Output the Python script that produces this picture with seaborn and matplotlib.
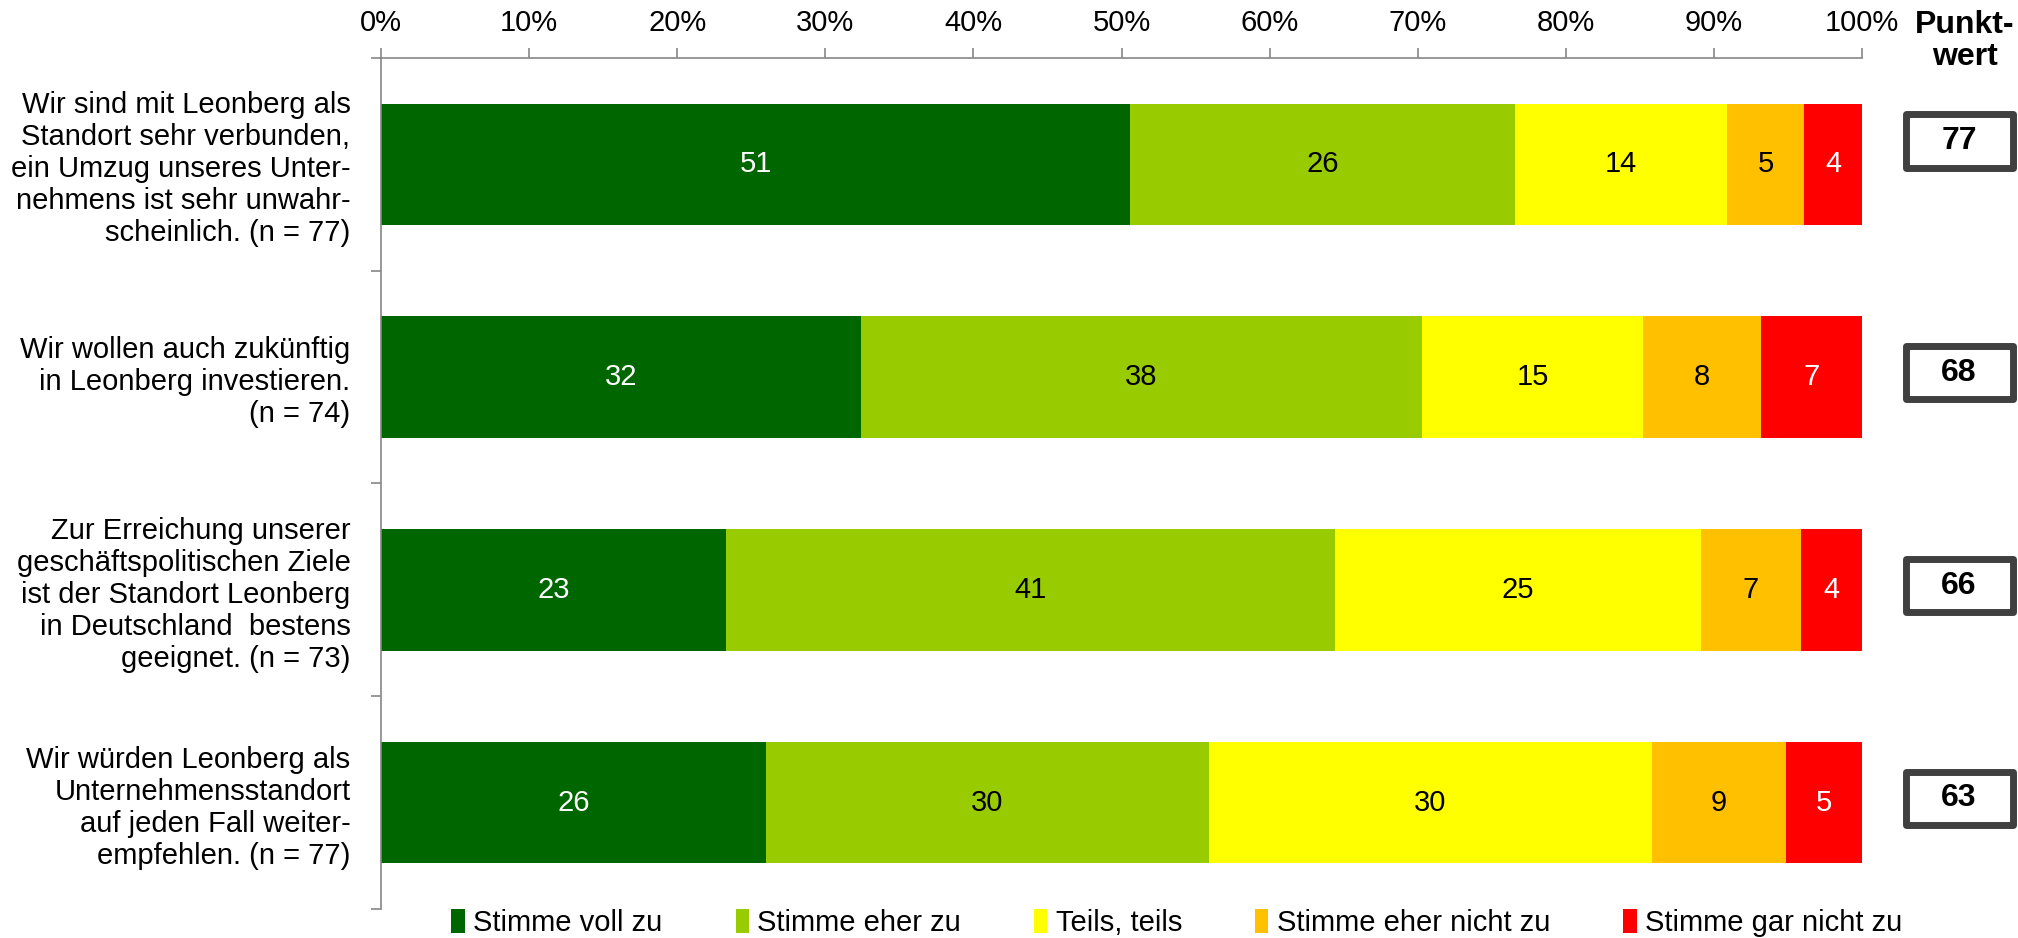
import numpy as np
import pandas as pd
import seaborn as sns
import matplotlib
matplotlib.use("Agg")
import matplotlib.pyplot as plt
from matplotlib.patches import Patch, Rectangle
from matplotlib.ticker import PercentFormatter, FixedLocator
from matplotlib.transforms import blended_transform_factory

# ---------------- data ----------------
categories = [
    "Wir sind mit Leonberg als\nStandort sehr verbunden,\nein Umzug unseres Unter-\nnehmens ist sehr unwahr-\nscheinlich. (n = 77)",
    "Wir wollen auch zukünftig\nin Leonberg investieren.\n(n = 74)",
    "Zur Erreichung unserer\ngeschäftspolitischen Ziele\nist der Standort Leonberg\nin Deutschland  bestens\ngeeignet. (n = 73)",
    "Wir würden Leonberg als\nUnternehmensstandort\nauf jeden Fall weiter-\nempfehlen. (n = 77)",
]
series_names = ["Stimme voll zu", "Stimme eher zu", "Teils, teils",
                "Stimme eher nicht zu", "Stimme gar nicht zu"]
voll_zu       = [50.6, 32.4, 23.3, 26.0]
eher_zu       = [26.0, 37.9, 41.1, 29.9]
teils         = [14.3, 14.9, 24.7, 29.9]
eher_nicht_zu = [5.2, 8.0, 6.8, 9.1]
gar_nicht_zu  = [3.9, 6.8, 4.1, 5.1]
punktwert     = [77, 68, 66, 63]
tick_values   = [0, 10, 20, 30, 40, 50, 60, 70, 80, 90, 100]

colors = ["#006600", "#99CC00", "#FFFF00", "#FFC000", "#FF0000"]
label_colors = ["white", "black", "black", "black", "white"]

# ---------------- style ----------------
sns.set_theme(style="white")
plt.rcParams["font.family"] = ["Liberation Sans", "DejaVu Sans"]
plt.rcParams["text.color"] = "black"
plt.rcParams["xtick.labelcolor"] = "black"
plt.rcParams["ytick.labelcolor"] = "black"
FS = 21
FSB = 23

fig = plt.figure(figsize=(20.18, 9.38), dpi=100)
ax = fig.add_axes([381 / 2018, 1 - 909 / 938, (1862 - 381) / 2018, (909 - 58) / 938])

series = [voll_zu, eher_zu, teils, eher_nicht_zu, gar_nicht_zu]
vals = np.array(series, dtype=float)
cum = np.cumsum(vals, axis=0)

# draw stacked bars: biggest cumulative first
for i in range(len(series) - 1, -1, -1):
    df = pd.DataFrame({"cat": categories, "cum": cum[i] / 100.0})
    sns.barplot(data=df, x="cum", y="cat", orient="h", color=colors[i],
                width=0.57, linewidth=0, saturation=1, ax=ax)

# value labels
for i in range(len(series)):
    for j in range(len(categories)):
        center = (cum[i][j] - vals[i][j] / 2) / 100.0
        ax.text(center, j, f"{round(vals[i][j]):.0f}", ha="center", va="center",
                fontsize=FS, color=label_colors[i])

ax.set_xlim(0, 1)
ax.set_ylim(len(categories) - 0.5, -0.5)
ax.set_xlabel("")
ax.set_ylabel("")

# x axis on top
ax.xaxis.set_ticks_position("top")
ax.xaxis.set_label_position("top")
ax.set_xticks([v / 100 for v in tick_values])
ax.xaxis.set_major_formatter(PercentFormatter(1.0, decimals=0))
ax.tick_params(axis="x", which="major", direction="out", length=7, width=1.2,
               color="#868686", labelsize=FS, pad=8, top=True, bottom=False,
               labeltop=True, labelbottom=False)

# y axis
ax.set_yticks(range(len(categories)))
ax.set_yticklabels(categories, fontsize=FS, linespacing=1.18)
ax.tick_params(axis="y", which="major", length=0, pad=22, left=True)
ax.yaxis.set_minor_locator(FixedLocator(np.arange(-0.5, len(categories), 1.0)))
ax.tick_params(axis="y", which="minor", direction="out", length=7, width=1.2,
               color="#868686", left=True)

for s in ["right", "bottom"]:
    ax.spines[s].set_visible(False)
for s in ["top", "left"]:
    ax.spines[s].set_visible(True)
    ax.spines[s].set_color("#868686")
    ax.spines[s].set_linewidth(1.2)
ax.grid(False)

# Punktwert column
fig.text(1965 / 2018, 1 - 41 / 938, "Punkt-\nwert", ha="center", va="center",
         fontsize=FSB, fontweight="bold", linespacing=1.05)
trans = blended_transform_factory(fig.transFigure, ax.transData)
box_offsets = [-0.11, -0.02, -0.02, -0.02]
bw = 107 / 2018
bh = 0.25
xc = 1959 / 2018
for j, pw in enumerate(punktwert):
    yc = j + box_offsets[j]
    rect = Rectangle((xc - bw / 2, yc - bh / 2), bw, bh, transform=trans,
                     facecolor="white", edgecolor="#404040", linewidth=5,
                     joinstyle="round", clip_on=False, zorder=5)
    ax.add_patch(rect)
    ax.text(xc, yc, str(pw), transform=trans, ha="center", va="center",
            fontsize=FSB, fontweight="bold", zorder=6, clip_on=False)

# legend
handles = [Patch(facecolor=c, edgecolor="none", label=n) for c, n in zip(colors, series_names)]
fig.legend(handles=handles, loc="center", bbox_to_anchor=(1177 / 2018, 1 - 923 / 938),
           ncol=5, frameon=False, fontsize=FS, handlelength=0.45, handleheight=0.9,
           handletextpad=0.3, columnspacing=2.5, borderpad=0, borderaxespad=0)

fig.savefig("out.png", dpi=100)
